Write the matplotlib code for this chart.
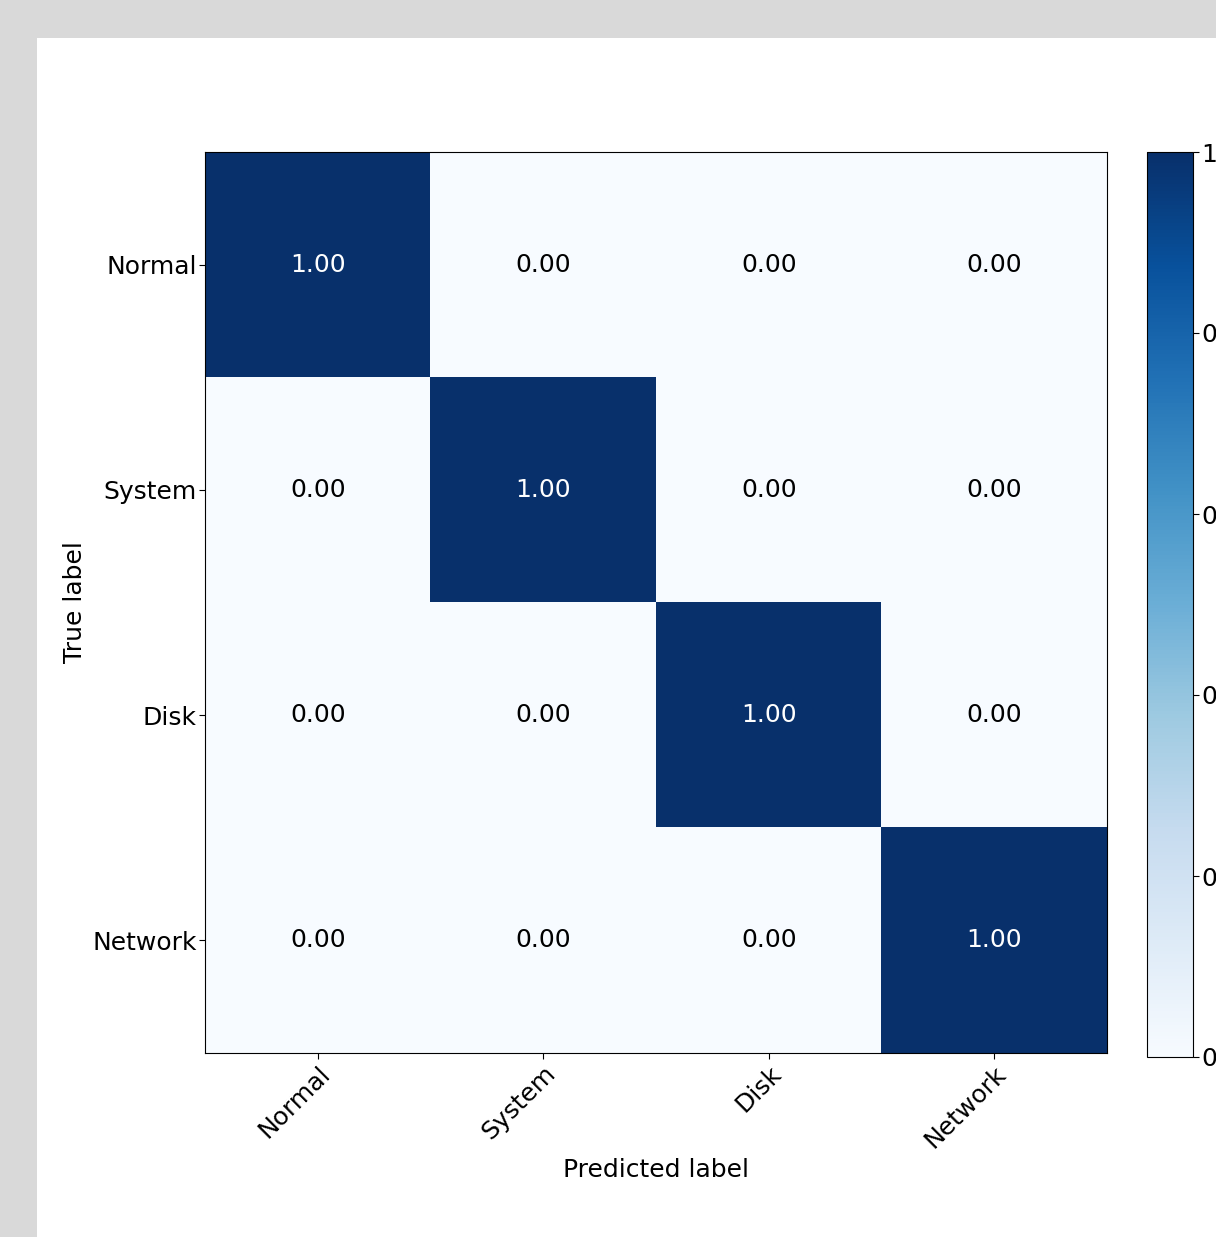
import numpy as np
import matplotlib
matplotlib.use("Agg")
import matplotlib.pyplot as plt
import matplotlib.patches as mpatches

classes = ["Normal", "System", "Disk", "Network"]
cm = np.array([
    [1.0, 0.0, 0.0, 0.0],
    [0.0, 1.0, 0.0, 0.0],
    [0.0, 0.0, 1.0, 0.0],
    [0.0, 0.0, 0.0, 1.0],
])
cbar_ticks = [0.0, 0.2, 0.4, 0.6, 0.8, 1.0]

W, H = 1216, 1237
fig = plt.figure(figsize=(W / 100, H / 100), dpi=100, facecolor="#d9d9d9")

# white page area (screenshot-like gray margin on top and left)
page = mpatches.Rectangle((37 / W, 0), 1 - 37 / W, (H - 38) / H,
                          transform=fig.transFigure, facecolor="white",
                          edgecolor="none", zorder=-10)
fig.add_artist(page)

fs = 18
ax = fig.add_axes([205 / W, (H - 1053) / H, (1107 - 205) / W, (1053 - 152) / H])
im = ax.imshow(cm, interpolation="nearest", cmap="Blues", vmin=0, vmax=1, aspect="auto")

ticks = np.arange(len(classes))
ax.set_xticks(ticks)
ax.set_xticklabels(classes, rotation=45, ha="right", rotation_mode="anchor", fontsize=fs)
ax.set_yticks(ticks)
ax.set_yticklabels(classes, fontsize=fs)
ax.tick_params(length=4, pad=2)

thresh = cm.max() / 2.0
for i in range(cm.shape[0]):
    for j in range(cm.shape[1]):
        ax.text(j, i, format(cm[i, j], ".2f"), ha="center", va="center", fontsize=fs,
                color="white" if cm[i, j] > thresh else "black")

ax.set_ylabel("True label", fontsize=fs, labelpad=4)
ax.set_xlabel("Predicted label", fontsize=fs, labelpad=4)

cax = fig.add_axes([1147 / W, (H - 1057) / H, 46 / W, 905 / H])
cb = fig.colorbar(im, cax=cax, ticks=cbar_ticks)
cb.ax.tick_params(labelsize=fs, length=4, pad=2)

fig.savefig("out.png", dpi=100, facecolor=fig.get_facecolor())
